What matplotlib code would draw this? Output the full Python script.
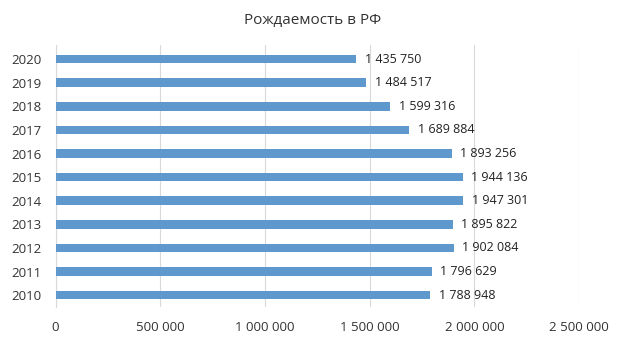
import matplotlib
matplotlib.use("Agg")
import matplotlib.pyplot as plt
from matplotlib.ticker import FuncFormatter

years = ["2010", "2011", "2012", "2013", "2014", "2015", "2016", "2017", "2018", "2019", "2020"]
births = [1788948, 1796629, 1902084, 1895822, 1947301, 1944136, 1893256, 1689884, 1599316, 1484517, 1435750]
title = "Рождаемость в РФ"

plt.rcParams['font.family'] = ['Open Sans', 'DejaVu Sans']

def fmt(v, pos=None):
    return f"{int(v):,}".replace(",", " ")

fig = plt.figure(figsize=(6.26, 3.43), dpi=100)
ax = fig.add_axes([0.0887, 0.105, 0.8363, 0.764])
ypos = list(range(len(years)))
ax.barh(ypos, births, height=0.36, color="#5E98CD", zorder=3)
for y, v in zip(ypos, births):
    ax.text(v + 40000, y, fmt(v), va="center", ha="left", fontsize=9, color="#222222")

ax.set_xlim(0, 2500000)
ax.set_ylim(-0.5, 10.6)
ax.set_xticks([0, 500000, 1000000, 1500000, 2000000, 2500000])
ax.xaxis.set_major_formatter(FuncFormatter(fmt))
ax.set_yticks(ypos)
ax.set_yticklabels(years)
ax.tick_params(axis="both", length=0, labelsize=9.5, colors="#333333")
ax.tick_params(axis="x", pad=10)
ax.tick_params(axis="y", pad=10)
ax.grid(axis="x", color="#D9D9D9", linewidth=0.8, zorder=0)
for s in ["top", "right", "bottom"]:
    ax.spines[s].set_visible(False)
ax.spines["left"].set_color("#D9D9D9")
ax.spines["left"].set_linewidth(0.8)
fig.text(0.5, 0.94, title, ha="center", va="center", fontsize=11, color="#333333")
fig.savefig("out.png", dpi=100)
